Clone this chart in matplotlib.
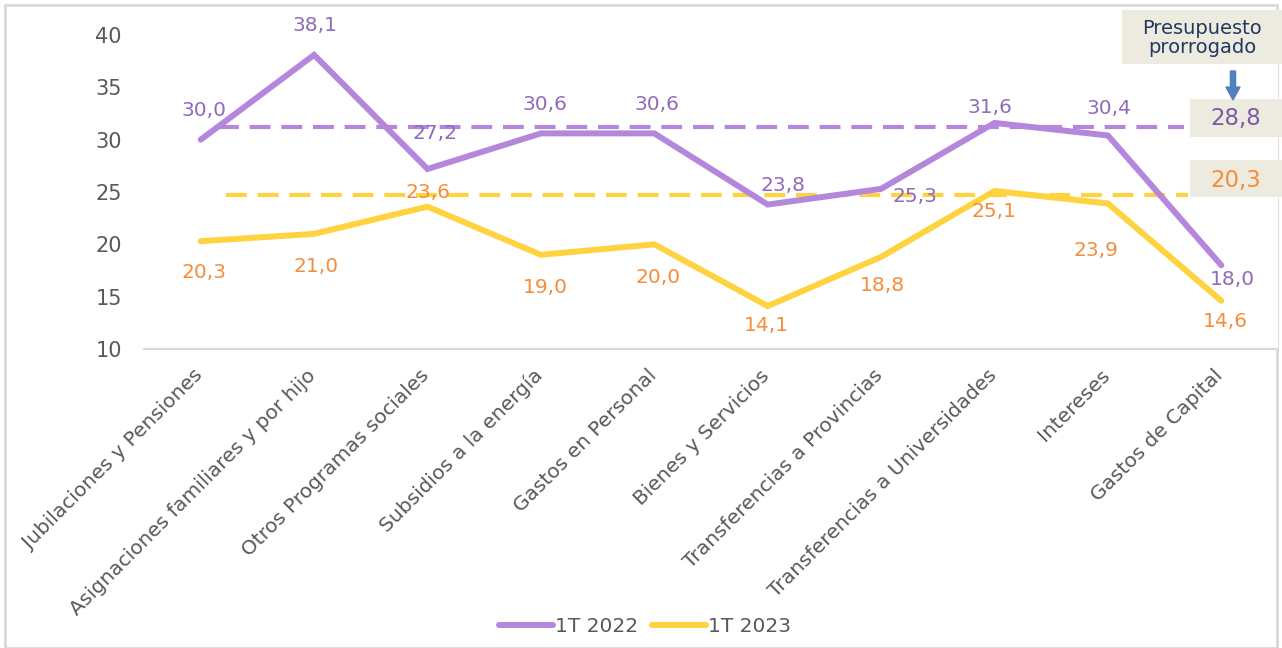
import matplotlib
matplotlib.use("Agg")
import matplotlib.pyplot as plt
import matplotlib.transforms as mtransforms
from matplotlib.patches import Rectangle, FancyArrow

# === Data ===
categories = [
    "Jubilaciones y Pensiones", "Asignaciones familiares y por hijo",
    "Otros Programas sociales", "Subsidios a la energía", "Gastos en Personal",
    "Bienes y Servicios", "Transferencias a Provincias",
    "Transferencias a Universidades", "Intereses", "Gastos de Capital",
]
t2022 = [30.0, 38.1, 27.2, 30.6, 30.6, 23.8, 25.3, 31.6, 30.4, 18.0]
t2023 = [20.3, 21.0, 23.6, 19.0, 20.0, 14.1, 18.8, 25.1, 23.9, 14.6]
series_names = ["1T 2022", "1T 2023"]

# dashed reference lines (level as drawn, and the value in the box)
ref_level_2022 = 31.2
ref_level_2023 = 24.7
ref_value_2022 = "28,8"
ref_value_2023 = "20,3"
yticks = [10, 15, 20, 25, 30, 35, 40]

# label offsets in pixels (dx, dy)
off_2022 = [(3, 29), (1, 29), (8, 35), (4, 29), (3, 29), (15, 19), (34, -8), (-5, 15), (1, 27), (11, -14)]
off_2023 = [(3, -31), (2, -33), (0, 14), (4, -33), (4, -33), (-1, -19), (1, -29), (0, -21), (-12, -47), (4, -21)]

PURPLE = "#B487DD"
YELLOW = "#FFD23F"
PURPLE_TXT = "#8F6CB9"
ORANGE_TXT = "#F58D3A"
BOX = "#EDEBE0"
GRAY_TXT = "#595959"

W, H = 1282, 648
fig = plt.figure(figsize=(W / 100, H / 100), dpi=100)
plt.rcParams["font.family"] = ["DejaVu Sans"]


def fx(px):
    return px / W


def fy(py):
    return 1 - py / H


ax = fig.add_axes([fx(144), fy(349), fx(1278) - fx(144), fy(35) - fy(349)])
x = list(range(len(categories)))

ax.plot(x, t2022, color=PURPLE, lw=4.3, solid_capstyle="round", solid_joinstyle="miter", label=series_names[0], zorder=3)
ax.plot(x, t2023, color=YELLOW, lw=4.3, solid_capstyle="round", solid_joinstyle="miter", label=series_names[1], zorder=3)

ax.plot([0.15, 8.67], [ref_level_2022, ref_level_2022], color=PURPLE, lw=3, dashes=(5, 2.6), zorder=2)
ax.plot([0.22, 8.71], [ref_level_2023, ref_level_2023], color=YELLOW, lw=3, dashes=(5, 2.6), zorder=2)

for i, v in enumerate(t2022):
    ax.annotate(f"{v:.1f}".replace(".", ","), (i, v), xytext=off_2022[i], textcoords="offset pixels",
                ha="center", va="center", color=PURPLE_TXT, fontsize=14.5, zorder=4)
for i, v in enumerate(t2023):
    ax.annotate(f"{v:.1f}".replace(".", ","), (i, v), xytext=off_2023[i], textcoords="offset pixels",
                ha="center", va="center", color=ORANGE_TXT, fontsize=14.5, zorder=4)

ax.set_xlim(-0.5, len(categories) - 0.5)
ax.set_ylim(10, 40)
ax.set_yticks(yticks)
ax.set_yticklabels([str(t) for t in yticks], fontsize=15, color=GRAY_TXT)
ax.set_xticks(x)
ax.set_xticklabels(categories, rotation=45, ha="right", va="center", rotation_mode="anchor",
                   fontsize=14.5, color=GRAY_TXT)
ax.tick_params(axis="both", length=0)
ax.tick_params(axis="y", pad=16)
ax.tick_params(axis="x", pad=17)
shift = mtransforms.ScaledTranslation(-1 / 100, 0, fig.dpi_scale_trans)
for lbl in ax.get_xticklabels():
    lbl.set_transform(lbl.get_transform() + shift)

for s in ["top", "right", "left"]:
    ax.spines[s].set_visible(False)
ax.spines["bottom"].set_color("#D9D9D9")
ax.spines["bottom"].set_linewidth(1.5)

leg = fig.legend(loc="center", bbox_to_anchor=(fx(645), fy(627)), ncol=2, frameon=False,
                 fontsize=14.5, handlelength=2.7, handletextpad=0.1, columnspacing=0.7)
for t in leg.get_texts():
    t.set_color(GRAY_TXT)

# boxes on the right
fig.add_artist(Rectangle((fx(1190), fy(137)), fx(92), fy(99) - fy(137), transform=fig.transFigure,
                         facecolor=BOX, edgecolor="none", zorder=5))
fig.text(fx(1236), fy(119), ref_value_2022, ha="center", va="center", fontsize=16.5, color="#7A5BA6", zorder=6)
fig.add_artist(Rectangle((fx(1190), fy(197)), fx(92), fy(160) - fy(197), transform=fig.transFigure,
                         facecolor=BOX, edgecolor="none", zorder=5))
fig.text(fx(1236), fy(180), ref_value_2023, ha="center", va="center", fontsize=16.5, color=ORANGE_TXT, zorder=6)

fig.add_artist(Rectangle((fx(1122), fy(64)), fx(160), fy(10) - fy(64), transform=fig.transFigure,
                         facecolor=BOX, edgecolor="none", zorder=5))
fig.text(fx(1202), fy(38), "Presupuesto\nprorrogado", ha="center", va="center", fontsize=14,
         color="#1F3A5F", linespacing=0.95, zorder=6)
fig.add_artist(FancyArrow(fx(1233), fy(71), 0, fy(100) - fy(71), width=0.004, head_width=0.011,
                          head_length=0.02, length_includes_head=True, transform=fig.transFigure,
                          color="#4F81BD", zorder=6))

# outer frame
fig.add_artist(Rectangle((fx(5), fy(648)), fx(1272), fy(5) - fy(648), transform=fig.transFigure,
                         facecolor="none", edgecolor="#D9D9D9", lw=2, zorder=0))

fig.savefig("out.png", dpi=100)
